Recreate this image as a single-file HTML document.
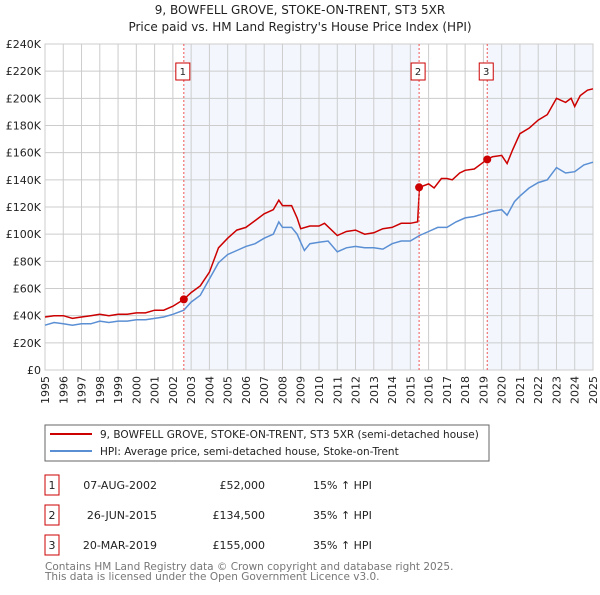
<!DOCTYPE html>
<html><head><meta charset="utf-8"><style>
body{margin:0;background:#fff;font-family:"Liberation Sans","DejaVu Sans",sans-serif;}
svg text{font-family:"DejaVu Sans","Liberation Sans",sans-serif;}
</style></head><body>
<svg id="chart" width="600" height="590" viewBox="0 0 600 590" xmlns="http://www.w3.org/2000/svg">
<text x="300" y="14" text-anchor="middle" font-size="12" fill="#222">9, BOWFELL GROVE, STOKE-ON-TRENT, ST3 5XR</text>
<text x="300" y="31" text-anchor="middle" font-size="12" fill="#222">Price paid vs. HM Land Registry's House Price Index (HPI)</text>
<g id="bg"></g><g id="grid"></g><g id="axes"></g><g id="series"></g><g id="marks"></g>
<g>
<rect x="45" y="425" width="444" height="36" fill="#fff" stroke="#666"/>
<line x1="50" y1="434" x2="92" y2="434" stroke="#cc0000" stroke-width="2"/>
<text x="100" y="438" font-size="10.5" fill="#222">9, BOWFELL GROVE, STOKE-ON-TRENT, ST3 5XR (semi-detached house)</text>
<line x1="50" y1="451" x2="92" y2="451" stroke="#5b8fd4" stroke-width="2"/>
<text x="100" y="455" font-size="10.5" fill="#222">HPI: Average price, semi-detached house, Stoke-on-Trent</text>
</g>
<g id="table" font-size="11" fill="#222"></g>
<text x="45" y="570" font-size="10.5" fill="#777">Contains HM Land Registry data © Crown copyright and database right 2025.</text>
<text x="45" y="580" font-size="10.5" fill="#777">This data is licensed under the Open Government Licence v3.0.</text>
</svg>
<script>
const hpiDates=[1995,1995.5,1996,1996.5,1997,1997.5,1998,1998.5,1999,1999.5,2000,2000.5,2001,2001.5,2002,2002.6,2003,2003.5,2004,2004.5,2005,2005.5,2006,2006.5,2007,2007.5,2007.8,2008,2008.5,2008.8,2009,2009.2,2009.5,2010,2010.5,2011,2011.5,2012,2012.5,2013,2013.5,2014,2014.5,2015,2015.5,2016,2016.5,2017,2017.5,2018,2018.5,2019,2019.5,2020,2020.3,2020.7,2021,2021.5,2022,2022.5,2023,2023.5,2024,2024.5,2025];
const hpiValues=[33,35,34,33,34,34,36,35,36,36,37,37,38,39,41,44,50,55,67,79,85,88,91,93,97,100,109,105,105,100,94,88,93,94,95,87,90,91,90,90,89,93,95,95,99,102,105,105,109,112,113,115,117,118,114,124,128,134,138,140,149,145,146,151,153];
const priceDates=[1995,1995.5,1996,1996.5,1997,1997.5,1998,1998.5,1999,1999.5,2000,2000.5,2001,2001.5,2002,2002.6,2003,2003.5,2004,2004.5,2005,2005.5,2006,2006.5,2007,2007.5,2007.8,2008,2008.5,2008.8,2009,2009.5,2010,2010.3,2011,2011.5,2012,2012.5,2013,2013.5,2014,2014.5,2015,2015.4,2015.5,2016,2016.3,2016.7,2017,2017.3,2017.7,2018,2018.5,2019,2019.2,2019.5,2020,2020.3,2020.6,2021,2021.5,2022,2022.5,2023,2023.5,2023.8,2024,2024.3,2024.7,2025];
const priceValues=[39,40,40,38,39,40,41,40,41,41,42,42,44,44,47,52,57,62,72,90,97,103,105,110,115,118,125,121,121,112,104,106,106,108,99,102,103,100,101,104,105,108,108,109,134.5,137,134,141,141,140,145,147,148,153,155,157,158,152,162,174,178,184,188,200,197,200,194,202,206,207];
const sales=[{n:"1",t:2002.6,v:52,date:"07-AUG-2002",price:"£52,000",pct:"15% ↑ HPI"},{n:"2",t:2015.48,v:134.5,date:"26-JUN-2015",price:"£134,500",pct:"35% ↑ HPI"},{n:"3",t:2019.21,v:155,date:"20-MAR-2019",price:"£155,000",pct:"35% ↑ HPI"}];
const yTicks=[0,20,40,60,80,100,120,140,160,180,200,220,240];
const xTicks=[1995,1996,1997,1998,1999,2000,2001,2002,2003,2004,2005,2006,2007,2008,2009,2010,2011,2012,2013,2014,2015,2016,2017,2018,2019,2020,2021,2022,2023,2024,2025];
const L=45,R=593,T=44,B=370;
const x=t=>L+(t-1995)/30*(R-L);
const y=v=>B-v/240*(B-T);
const NS="http://www.w3.org/2000/svg";
function mk(parent,tag,attrs){const e=document.createElementNS(NS,tag);for(const k in attrs)e.setAttribute(k,attrs[k]);document.getElementById(parent).appendChild(e);return e;}
const bg1=mk('bg','rect',{x:x(sales[0].t),y:T,width:x(sales[1].t)-x(sales[0].t),height:B-T,fill:'#eef3fc',opacity:0.7});


const bg2=mk('bg','rect',{x:x(sales[2].t),y:T,width:R-x(sales[2].t),height:B-T,fill:'#eef3fc',opacity:0.7});


yTicks.forEach(v=>{
 const l=mk('grid','line',{x1:L,x2:R,y1:y(v),y2:y(v),stroke:'#ccc','stroke-width':1});
 
 
 const t=mk('axes','text',{x:L-4,y:y(v)+4,'text-anchor':'end','font-size':11,fill:'#222'});
 t.textContent=v===0?'£0':'£'+v+'K';
 
 
});
xTicks.forEach(yr=>{
 const l=mk('grid','line',{x1:x(yr),x2:x(yr),y1:T,y2:B,stroke:'#ccc','stroke-width':1});
 
 
 const t=mk('axes','text',{x:0,y:0,'text-anchor':'end','font-size':11,fill:'#222',transform:`translate(${x(yr)+4},${B+6}) rotate(-90)`});
 t.textContent=yr;
 
 
});
const fr=mk('axes','rect',{x:L,y:T,width:R-L,height:B-T,fill:'none',stroke:'#ccc'});


function path(d,v){return d.map((t,i)=>(i?'L':'M')+x(t).toFixed(1)+','+y(v[i]).toFixed(1)).join('');}
const hp=mk('series','path',{d:path(hpiDates,hpiValues),fill:'none',stroke:'#5b8fd4','stroke-width':1.5});


const pp=mk('series','path',{d:path(priceDates,priceValues),fill:'none',stroke:'#cc0000','stroke-width':1.5});


sales.forEach((s,i)=>{
 const vl=mk('marks','line',{x1:x(s.t),x2:x(s.t),y1:T,y2:B,stroke:'#e55','stroke-width':1,'stroke-dasharray':'2,2'});
 
 
 const bx=mk('marks','rect',{x:x(s.t)-8,y:63,width:14,height:17,fill:'#fff',stroke:'#c00'});
 
 
 const bt=mk('marks','text',{x:x(s.t)-1,y:75,'text-anchor':'middle','font-size':10,fill:'#222'});
 bt.textContent=s.n;
 
 
 const c=mk('marks','circle',{cx:x(s.t),cy:y(s.v),r:4,fill:'#cc0000'});
 
 
 const ry=485+i*30;
 const tb=mk('table','rect',{x:45,y:ry-10,width:14,height:20,fill:'#fff',stroke:'#c00'});
 
 
 const tn=mk('table','text',{x:52,y:ry+4,'text-anchor':'middle','font-size':11,fill:'#222'});tn.textContent=s.n;
 
 
 const td=mk('table','text',{x:157,y:ry+4,'text-anchor':'end','font-size':11,fill:'#222'});td.textContent=s.date;
 
 
 const tp=mk('table','text',{x:265,y:ry+4,'text-anchor':'end','font-size':11,fill:'#222'});tp.textContent=s.price;
 
 
 const tc=mk('table','text',{x:313,y:ry+4,'font-size':11,fill:'#222'});tc.textContent=s.pct;
 
 
});
</script>
</body></html>
